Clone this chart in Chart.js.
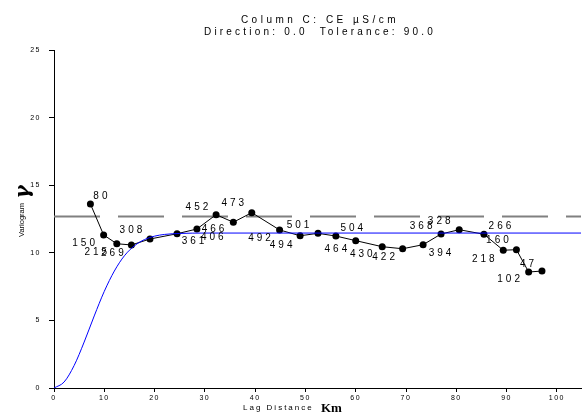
<!DOCTYPE html>
<html>
<head>
<meta charset="utf-8">
<script src="https://cdn.jsdelivr.net/npm/chart.js"></script>
<style>
  body { margin: 0; background: #fff; }
  #wrap { width: 585px; height: 412px; }
</style>
</head>
<body>
<div id="wrap"><canvas id="variograma" width="585" height="412"></canvas></div>
<script>
// Variograma experimental (lag en Km, gamma y número de pares)
const lags = [7.24, 9.87, 12.49, 15.39, 19.08, 24.47, 28.42, 32.23, 35.66, 39.33, 44.86, 48.94, 52.5,
              56.05, 60.0, 65.27, 69.33, 73.4, 76.97, 80.58, 85.5, 89.34, 91.96, 94.39, 97.04];
const gamma = [13.61, 11.32, 10.67, 10.58, 11.02, 11.41, 11.76, 12.82, 12.26, 12.97, 11.69, 11.26, 11.44,
               11.24, 10.9, 10.45, 10.3, 10.6, 11.39, 11.71, 11.37, 10.19, 10.23, 8.58, 8.65];
const pares = [80, 150, 215, 269, 308, 361, 452, 466, 406, 473, 492, 494, 501,
               464, 504, 430, 422, 368, 394, 328, 266, 218, 160, 102, 47];

const modeloLag = [0, 2, 4, 6, 8, 10, 12, 14, 16, 18, 20, 22, 25, 30, 104.8];
const modeloGamma = [0, 0.44, 1.66, 3.4, 5.33, 7.15, 8.65, 9.78, 10.52, 10.98, 11.23, 11.36, 11.43, 11.46, 11.46];

// Varianza de la muestra (línea discontinua)
const sill = 12.68;
const xTicks = [0, 10, 20, 30, 40, 50, 60, 70, 80, 90, 100];

// desplazamiento de cada etiqueta respecto a su punto (px)
const offsetEtiquetas = [[10, -8], [-20, 8], [-21, 9], [-19, 8], [-19, -9], [16, 8], [0, -22], [-3, 15], [-21, 15],
                         [-19, -9], [-20, 8], [-19, 9], [-20, -8], [0, 13], [-4, -12], [-21, 8], [-19, 9], [-2, -18],
                         [-1, 19], [-20, -8], [16, -8], [-20, 9], [-19, -9], [-20, 7], [-15, -7]];

const decoracion = {
    id: 'decoracion',
    beforeDraw(chart) {
        chart.ctx.letterSpacing = '1.5px';
    },
    afterDraw(chart) {
        const ctx = chart.ctx;
        ctx.save();
        ctx.fillStyle = '#000';

        // titulo
        ctx.letterSpacing = '3.5px';
        ctx.font = '10px "Liberation Sans"';
        ctx.textAlign = 'center';
        ctx.textBaseline = 'middle';
        ctx.fillText('Column C: CE µS/cm', 320, 20);
        ctx.letterSpacing = '3.2px';
        ctx.fillText('Direction: 0.0  Tolerance: 90.0', 320, 32);

        // etiquetas de pares
        ctx.letterSpacing = '3px';
        const meta = chart.getDatasetMeta(1);
        meta.data.forEach((p, i) => {
            const off = offsetEtiquetas[i];
            ctx.fillText(String(pares[i]), p.x + off[0] + 1.5, p.y + off[1]);
        });

        // titulo eje x
        ctx.letterSpacing = '2px';
        ctx.font = '8px "Liberation Sans"';
        ctx.textAlign = 'left';
        ctx.textBaseline = 'alphabetic';
        ctx.fillText('Lag Distance', 243, 410);
        ctx.letterSpacing = '0px';
        ctx.font = 'bold 13px "Liberation Serif"';
        ctx.fillText('Km', 321, 412);

        // titulo eje y
        ctx.translate(22, 220);
        ctx.rotate(-Math.PI / 2);
        ctx.font = '7.5px "Liberation Sans"';
        ctx.textAlign = 'center';
        ctx.textBaseline = 'middle';
        ctx.fillText('Variogram', 0, 0);
        ctx.font = 'italic bold 20px "DejaVu Serif"';
        ctx.fillText('γ', 28, 2);
        ctx.restore();
    }
};

const ctxVario = document.getElementById('variograma').getContext('2d');
new Chart(ctxVario, {
    type: 'line',
    data: {
        datasets: [
            {
                label: 'Modelo',
                data: modeloLag.map((x, i) => ({ x: x, y: modeloGamma[i] })),
                borderColor: '#0000ff',
                borderWidth: 1,
                pointRadius: 0,
                cubicInterpolationMode: 'monotone',
                order: 0
            },
            {
                label: 'Experimental',
                data: lags.map((x, i) => ({ x: x, y: gamma[i] })),
                borderColor: '#000',
                borderWidth: 1,
                pointRadius: 3.5,
                pointBackgroundColor: '#000',
                pointBorderColor: '#000',
                pointBorderWidth: 0,
                order: 1
            },
            {
                label: 'Sill',
                data: [{ x: 0, y: sill }, { x: 104.8, y: sill }],
                borderColor: '#808080',
                borderWidth: 2,
                borderDash: [46, 18],
                pointRadius: 0,
                order: 2
            }
        ]
    },
    options: {
        responsive: false,
        animation: false,
        layout: { padding: { top: 50, right: 0, left: 0, bottom: 0 } },
        plugins: {
            legend: { display: false },
            tooltip: { enabled: false }
        },
        scales: {
            x: {
                type: 'linear',
                min: 0,
                max: 104.8,
                afterBuildTicks: (axis) => { axis.ticks = xTicks.map(v => ({ value: v })); },
                afterFit: (scale) => { scale.height = 24; },
                grid: { drawOnChartArea: false, tickLength: 4, color: '#000' },
                border: { color: '#000', width: 1 },
                ticks: {
                    color: '#000',
                    font: { family: 'Liberation Sans', size: 7 },
                    padding: 2,
                    maxRotation: 0,
                    autoSkip: false
                }
            },
            y: {
                min: 0,
                max: 25,
                afterFit: (scale) => { scale.width = 54; },
                grid: { drawOnChartArea: false, tickLength: 5, color: '#000' },
                border: { color: '#000', width: 1 },
                ticks: {
                    stepSize: 5,
                    color: '#000',
                    font: { family: 'Liberation Sans', size: 7 },
                    padding: 8
                }
            }
        }
    },
    plugins: [decoracion]
});
</script>
</body>
</html>
